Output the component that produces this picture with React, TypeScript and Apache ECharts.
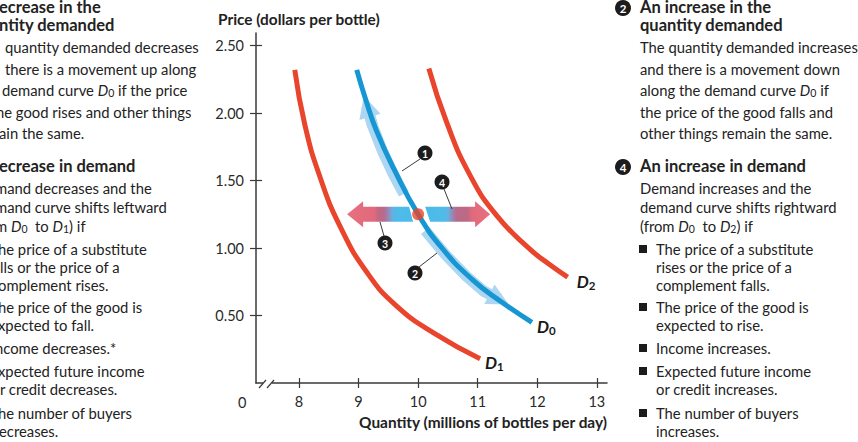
import { useEffect, useRef } from "react";
import * as echarts from "echarts";

// ---- axes ----
const QUANTITY_TICKS = [8, 9, 10, 11, 12, 13];
const PRICE_TICKS = [0.5, 1.0, 1.5, 2.0, 2.5];
const Q_MIN = 7.279;
const Q_MAX = 13.17;
const P_MIN = 0;
const P_MAX = 2.593;

// ---- demand curves (quantity, price) ----
const D0_Q = [8.97, 9.12, 9.3, 9.6, 10.0, 10.4, 10.9, 11.4, 11.91];
const D0_P = [2.32, 2.1, 1.87, 1.58, 1.25, 1.0, 0.77, 0.6, 0.45];
const D1_Q = [7.93, 8.1, 8.35, 8.69, 9.14, 9.64, 10.3, 11.04];
const D1_P = [2.32, 1.91, 1.53, 1.16, 0.82, 0.57, 0.36, 0.18];
const D2_Q = [10.18, 10.48, 10.87, 11.32, 11.88, 12.2, 12.51];
const D2_P = [2.33, 1.93, 1.54, 1.24, 0.99, 0.88, 0.785];

// starting point on D0
const START_Q = 10;
const START_P = 1.25;

// movements along D0
const UP_Q = [9.76, 9.58, 9.4, 9.24, 9.14];
const UP_P = [1.4, 1.55, 1.72, 1.9, 2.05];
const DOWN_Q = [10.12, 10.45, 10.8, 11.1, 11.36];
const DOWN_P = [1.13, 0.955, 0.795, 0.68, 0.62];

// ---- side panels ----
const LEFT_HEAD_A = ["ecrease in the", "ntity demanded"];
const LEFT_BODY_A = [
  "quantity demanded decreases",
  "there is a movement up along",
  "demand curve {i|D}{s|0} if the price",
  "he good rises and other things",
  "ain the same.",
];
const LEFT_HEAD_B = ["ecrease in demand"];
const LEFT_BODY_B = [
  "mand decreases and the",
  "mand curve shifts leftward",
  "m {i|D}{s|0}  to {i|D}{s|1}) if",
];
const LEFT_BULLETS = [
  ["he price of a substitute", "lls or the price of a", "omplement rises."],
  ["he price of the good is", "xpected to fall."],
  ["ncome decreases.*"],
  ["xpected future income", "r credit decreases."],
  ["he number of buyers", "ecreases."],
];

const RIGHT_HEAD_A = ["An increase in the", "quantity demanded"];
const RIGHT_BODY_A = [
  "The quantity demanded increases",
  "and there is a movement down",
  "along the demand curve {i|D}{s|0} if",
  "the price of the good falls and",
  "other things remain the same.",
];
const RIGHT_HEAD_B = ["An increase in demand"];
const RIGHT_BODY_B = [
  "Demand increases and the",
  "demand curve shifts rightward",
  "(from {i|D}{s|0}  to {i|D}{s|2}) if",
];
const RIGHT_BULLETS = [
  ["The price of a substitute", "rises or the price of a", "complement falls."],
  ["The price of the good is", "expected to rise."],
  ["Income increases."],
  ["Expected future income", "or credit increases."],
  ["The number of buyers", "increases."],
];

const zip = (a: number[], b: number[]) => a.map((v, i) => [v, b[i]]);
const lastSegment = (a: number[], b: number[]) => zip(a, b).slice(-2);

const FONT = "Lato, 'Open Sans', sans-serif";
const RED = "#e8452c";
const BLUE = "#1696d2";
const BAND = "#acd6f2";
const INK = "#222222";
const BODY_SIZE = 14.8;
const HEAD_SIZE = 16.5;

// layout of the text panels
const HEAD_A_Y = 16; // centre of the two-line heading
const BODY_A_Y = [47, 69, 90, 112, 133];
const HEAD_B_Y = [166];
const BODY_B_Y = [188, 207, 226];
const BULLET_Y = [
  [249, 267, 285],
  [307, 325],
  [348],
  [371, 389],
  [413, 431],
];
const LEFT_BODY_A_X = [5, 5, 2, -4, -1];
const LEFT_BODY_B_X = [-5, -5, -5];
const LEFT_BULLET_X = [[-2, 0, -2], [-2, -2], [-5], [-2, 0], [-2, -1]];

const richSub = {
  i: { fontFamily: FONT, fontSize: BODY_SIZE, fontStyle: "italic", fontWeight: "normal", fill: INK, lineHeight: 17 },
  s: { fontFamily: FONT, fontSize: 10.5, fontWeight: "normal", fill: INK, lineHeight: 4, verticalAlign: "bottom" },
};

function txt(x: number, y: number, text: string, bold = false, size = BODY_SIZE, extra: any = {}) {
  return {
    type: "text",
    x,
    y,
    z: 100,
    silent: true,
    style: {
      text,
      fontFamily: FONT,
      fontSize: size,
      fontWeight: bold ? "bold" : "normal",
      fill: INK,
      textAlign: "left",
      textVerticalAlign: "middle",
      lineHeight: 17,
      rich: richSub,
      ...extra,
    },
  };
}

function badge(x: number, y: number, label: string, r: number, size: number) {
  return [
    { type: "circle", z: 101, silent: true, shape: { cx: x, cy: y, r }, style: { fill: "#1c1c1c" } },
    {
      type: "text",
      z: 102,
      silent: true,
      x,
      y: y + 0.5,
      style: {
        text: label,
        fontFamily: FONT,
        fontSize: size,
        fontWeight: "bold",
        fill: "#ffffff",
        textAlign: "center",
        textVerticalAlign: "middle",
      },
    },
  ];
}

function leader(x1: number, y1: number, x2: number, y2: number) {
  return {
    type: "line",
    z: 99,
    silent: true,
    shape: { x1, y1, x2, y2 },
    style: { stroke: "#3a3a3a", lineWidth: 1 },
  };
}

function curveLabel(sub: string) {
  return {
    show: true,
    formatter: `{d|D}{s|${sub}}`,
    distance: 5,
    lineHeight: 20,
    rich: {
      d: { fontFamily: FONT, fontSize: 17, fontWeight: "bold", fontStyle: "italic", color: "#1a1a1a", lineHeight: 20 },
      s: { fontFamily: FONT, fontSize: 11.5, fontWeight: "bold", color: "#1a1a1a", lineHeight: 8, verticalAlign: "bottom" },
    },
  };
}

function buildOption() {
  const axisColor = "#3a3a3a";
  const xCommon = {
    type: "value",
    min: Q_MIN,
    max: Q_MAX,
    position: "bottom",
    splitLine: { show: false },
  };
  const yCommon = {
    type: "value",
    min: P_MIN,
    max: P_MAX,
    position: "left",
    splitLine: { show: false },
  };
  const curve = (q: number[], p: number[], color: string, z: number, sub: string, offset: number[]) => ({
    type: "line",
    data: zip(q, p),
    smooth: 0.5,
    showSymbol: false,
    silent: true,
    z,
    lineStyle: { color, width: 5 },
    endLabel: { ...curveLabel(sub), offset },
  });
  return {
    animation: false,
    grid: { left: 256, top: 33, width: 351, height: 350, containLabel: false },
    xAxis: [
      {
        ...xCommon,
        axisLine: { show: true, onZero: false, lineStyle: { color: axisColor, width: 1.5 } },
        axisTick: { show: true, customValues: QUANTITY_TICKS, length: 5, lineStyle: { color: axisColor, width: 1.2 } },
        axisLabel: { customValues: QUANTITY_TICKS, margin: 11, fontSize: 14.5, color: "#2a2a2a", fontFamily: FONT },
      },
      {
        ...xCommon,
        axisLine: { show: false, onZero: false },
        axisTick: { show: true, inside: true, customValues: QUANTITY_TICKS, length: 5, lineStyle: { color: axisColor, width: 1.2 } },
        axisLabel: { show: false },
      },
    ],
    yAxis: [
      {
        ...yCommon,
        axisLine: { show: true, onZero: false, lineStyle: { color: axisColor, width: 1.5 } },
        axisTick: { show: true, customValues: PRICE_TICKS, length: 6, lineStyle: { color: axisColor, width: 1.2 } },
        axisLabel: {
          customValues: PRICE_TICKS,
          margin: 12,
          fontSize: 14.5,
          color: "#2a2a2a",
          fontFamily: FONT,
          formatter: (v: number) => v.toFixed(2),
        },
      },
      {
        ...yCommon,
        axisLine: { show: false, onZero: false },
        axisTick: { show: true, inside: true, customValues: PRICE_TICKS, length: 6, lineStyle: { color: axisColor, width: 1.2 } },
        axisLabel: { show: false },
      },
    ],
    series: [
      // light bands for the movements along D0
      {
        type: "lines",
        coordinateSystem: "cartesian2d",
        polyline: true,
        silent: true,
        z: 1,
        lineStyle: { color: BAND, width: 11, opacity: 1 },
        data: [{ coords: zip(UP_Q, UP_P) }, { coords: zip(DOWN_Q, DOWN_P) }],
      },
      // arrowheads at the end of each movement
      {
        type: "lines",
        coordinateSystem: "cartesian2d",
        silent: true,
        z: 1,
        symbol: ["none", "triangle"],
        symbolSize: 22,
        lineStyle: { color: BAND, width: 11, opacity: 1 },
        data: [{ coords: lastSegment(UP_Q, UP_P) }, { coords: lastSegment(DOWN_Q, DOWN_P) }],
      },
      curve(D1_Q, D1_P, RED, 3, "1", [0, 4]),
      curve(D2_Q, D2_P, RED, 3, "2", [4, 4]),
      curve(D0_Q, D0_P, BLUE, 4, "0", [0, 4]),
      {
        type: "scatter",
        data: [[START_Q, START_P]],
        symbolSize: 12,
        silent: true,
        z: 6,
        itemStyle: { color: RED },
      },
    ],
  };
}

function shiftArrows(cx: number, cy: number) {
  const h = 7.5;
  const H = 13;
  const leftTip = cx - 71;
  const leftBase = leftTip + 16;
  const rightTip = cx + 72;
  const rightBase = rightTip - 15;
  const leftGrad = {
    type: "linear",
    x: 0,
    y: 0,
    x2: 1,
    y2: 0,
    colorStops: [
      { offset: 0, color: "#e8707e" },
      { offset: 0.42, color: "#e0697c" },
      { offset: 0.47, color: "#c06884" },
      { offset: 0.56, color: "#b76b8b" },
      { offset: 0.62, color: "#9a86b6" },
      { offset: 0.68, color: "#6aaedc" },
      { offset: 0.74, color: "#4fbbe9" },
      { offset: 1, color: "#4cbbea" },
    ],
  };
  const rightGrad = {
    type: "linear",
    x: 0,
    y: 0,
    x2: 1,
    y2: 0,
    colorStops: [
      { offset: 0, color: "#4cbbea" },
      { offset: 0.3, color: "#4fbbe9" },
      { offset: 0.36, color: "#6aaedc" },
      { offset: 0.42, color: "#9a86b6" },
      { offset: 0.48, color: "#b76b8b" },
      { offset: 0.66, color: "#c06884" },
      { offset: 0.72, color: "#e0697c" },
      { offset: 1, color: "#e8707e" },
    ],
  };
  return [
    {
      type: "polygon",
      z: 50,
      silent: true,
      shape: {
        points: [
          [leftTip, cy],
          [leftBase, cy - H],
          [leftBase, cy - h],
          [cx - 9, cy - h],
          [cx - 5, cy + h],
          [leftBase, cy + h],
          [leftBase, cy + H],
        ],
      },
      style: { fill: leftGrad },
    },
    {
      type: "polygon",
      z: 50,
      silent: true,
      shape: {
        points: [
          [cx + 7, cy - h],
          [rightBase, cy - h],
          [rightBase, cy - H],
          [rightTip, cy],
          [rightBase, cy + H],
          [rightBase, cy + h],
          [cx + 12, cy + h],
        ],
      },
      style: { fill: rightGrad },
    },
  ];
}

function panels() {
  const els: any[] = [];
  // left column
  els.push(txt(-1, HEAD_A_Y, LEFT_HEAD_A.join("\n"), true, HEAD_SIZE, { lineHeight: 18 }));
  LEFT_BODY_A.forEach((t, i) => els.push(txt(LEFT_BODY_A_X[i], BODY_A_Y[i], t)));
  LEFT_HEAD_B.forEach((t, i) => els.push(txt(-1, HEAD_B_Y[i], t, true, HEAD_SIZE)));
  LEFT_BODY_B.forEach((t, i) => els.push(txt(LEFT_BODY_B_X[i], BODY_B_Y[i], t)));
  LEFT_BULLETS.forEach((lines, b) =>
    lines.forEach((t, i) => els.push(txt(LEFT_BULLET_X[b][i], BULLET_Y[b][i], t)))
  );
  // right column
  const rx = 640;
  els.push(...badge(623, 8, "2", 8, 11.5));
  els.push(txt(rx, HEAD_A_Y, RIGHT_HEAD_A.join("\n"), true, HEAD_SIZE, { lineHeight: 18 }));
  RIGHT_BODY_A.forEach((t, i) => els.push(txt(rx, BODY_A_Y[i], t)));
  els.push(...badge(623, 167, "4", 8, 11.5));
  RIGHT_HEAD_B.forEach((t, i) => els.push(txt(rx, HEAD_B_Y[i], t, true, HEAD_SIZE)));
  RIGHT_BODY_B.forEach((t, i) => els.push(txt(rx, BODY_B_Y[i], t)));
  RIGHT_BULLETS.forEach((lines, b) => {
    els.push({
      type: "rect",
      z: 100,
      silent: true,
      shape: { x: 639, y: BULLET_Y[b][0] - 4, width: 8, height: 8 },
      style: { fill: "#1c1c1c" },
    });
    lines.forEach((t, i) => els.push(txt(656, BULLET_Y[b][i], t)));
  });
  return els;
}

function chartDecor(cx: number, cy: number) {
  const els: any[] = [];
  // axis titles and origin
  els.push(txt(218, 19, "Price (dollars per bottle)", true, 15.4));
  els.push(txt(607, 422, "Quantity (millions of bottles per day)", true, 15.4, { textAlign: "right" }));
  els.push(txt(238, 402, "0", false, 14.5, { fill: "#2a2a2a" }));
  // axis break
  els.push({ type: "rect", z: 100, silent: true, shape: { x: 263, y: 380, width: 9, height: 6 }, style: { fill: "#ffffff" } });
  els.push({ type: "line", z: 101, silent: true, shape: { x1: 259, y1: 388, x2: 266, y2: 380 }, style: { stroke: "#3a3a3a", lineWidth: 1.2 } });
  els.push({ type: "line", z: 101, silent: true, shape: { x1: 267, y1: 388, x2: 274, y2: 380 }, style: { stroke: "#3a3a3a", lineWidth: 1.2 } });
  // shift arrows
  els.push(...shiftArrows(cx, cy));
  // callouts
  els.push(leader(420, 159, 402, 171));
  els.push(...badge(425, 153, "1", 7.5, 10.5));
  els.push(leader(444, 189, 452, 209));
  els.push(...badge(442, 182, "4", 7.5, 10.5));
  els.push(leader(384, 236, 380, 222));
  els.push(...badge(385, 243, "3", 7.5, 10.5));
  els.push(leader(419, 267, 437, 253));
  els.push(...badge(415, 273, "2", 7.5, 10.5));
  return els;
}

export default function App() {
  const ref = useRef<HTMLDivElement>(null);
  useEffect(() => {
    if (!ref.current) return;
    const chart = echarts.init(ref.current, null, { renderer: "svg" });
    chart.setOption(buildOption() as any);
    const [cx, cy] = chart.convertToPixel({ gridIndex: 0 }, [START_Q, START_P]) as number[];
    chart.setOption({ graphic: { elements: [...panels(), ...chartDecor(cx, cy)] } } as any);
    return () => chart.dispose();
  }, []);
  return (
    <div
      ref={ref}
      style={{ position: "absolute", left: 0, top: 0, width: 858, height: 442, background: "#ffffff" }}
    />
  );
}
